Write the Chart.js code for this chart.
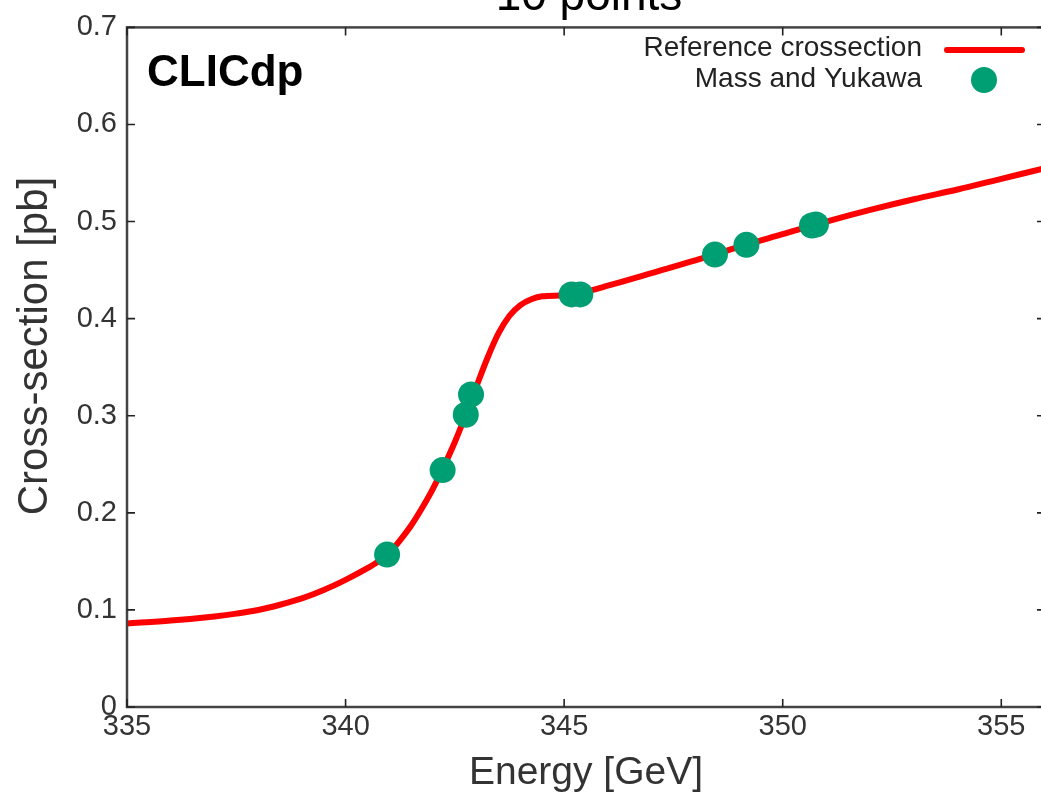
<!DOCTYPE html>
<html>
<head>
<meta charset="utf-8">
<title>Reference cross-section, 10 points</title>
<script src="https://cdn.jsdelivr.net/npm/chart.js@4.4.1/dist/chart.umd.min.js"></script>
<style>
  html, body { margin:0; padding:0; background:#fff; overflow:hidden; }
  #wrap { width:1060px; height:795px; }
</style>
</head>
<body>
<div id="wrap"><canvas id="xsecChart" width="1060" height="795"></canvas></div>
<script>
/* ---------- Data ---------- */
// reference cross-section curve
const curveEnergy = [335.0, 336.0, 337.0, 337.5, 338.0, 338.5, 339.0, 339.5, 340.0, 340.5,
                     340.75, 341.0, 341.25, 341.5, 341.75, 342.0, 342.25, 342.5, 342.75, 343.0,
                     343.25, 343.5, 343.75, 344.0, 344.25, 344.5, 345.0, 345.5, 346.0, 347.0,
                     348.0, 349.0, 350.0, 351.0, 352.0, 353.0, 354.0, 355.0, 356.0];
const curveXsec   = [0.086, 0.089, 0.0933, 0.0962, 0.0999, 0.1053, 0.1118, 0.1205, 0.131, 0.143,
                     0.150, 0.159, 0.172, 0.187, 0.205, 0.225, 0.248, 0.273, 0.301, 0.331,
                     0.360, 0.385, 0.403, 0.414, 0.420, 0.423, 0.424, 0.428, 0.434, 0.447,
                     0.460, 0.474, 0.487, 0.500, 0.512, 0.523, 0.533, 0.544, 0.555];

// the 10 scan points (mass and Yukawa)
const scanEnergy = [340.95, 342.22, 342.75, 342.87, 345.17, 345.37, 348.45, 349.17, 350.67, 350.76];
const scanXsec   = [0.157, 0.244, 0.301, 0.322, 0.425, 0.425, 0.466, 0.476, 0.496, 0.497];

// axis ticks
const xTicks = [335, 340, 345, 350, 355];
const yTicks = [0, 0.1, 0.2, 0.3, 0.4, 0.5, 0.6, 0.7];

const FONT = "'Liberation Sans', Arial, Helvetica, sans-serif";
const RED = '#ff0000';
const GREEN = '#009e73';

/* ---------- Frame, inward ticks and texts ---------- */
const decorPlugin = {
  id: 'decor',
  afterDatasetsDraw(chart){
    const {ctx, chartArea: a, scales: {x, y}} = chart;
    ctx.save();

    // box
    ctx.strokeStyle = '#444';
    ctx.lineWidth = 2.5;
    ctx.strokeRect(a.left, a.top, a.right - a.left, a.bottom - a.top);

    // ticks pointing in, mirrored on all sides
    ctx.lineWidth = 1.6;
    ctx.strokeStyle = '#222';
    ctx.beginPath();
    xTicks.forEach(v => {
      const px = x.getPixelForValue(v);
      ctx.moveTo(px, a.bottom); ctx.lineTo(px, a.bottom - 8);
      ctx.moveTo(px, a.top);    ctx.lineTo(px, a.top + 8);
    });
    yTicks.forEach(v => {
      const py = y.getPixelForValue(v);
      ctx.moveTo(a.left, py);  ctx.lineTo(a.left + 8, py);
      ctx.moveTo(a.right, py); ctx.lineTo(a.right - 8, py);
    });
    ctx.stroke();

    // title (partly above the visible area)
    ctx.fillStyle = '#000';
    ctx.textAlign = 'center';
    ctx.textBaseline = 'alphabetic';
    ctx.font = '46px ' + FONT;
    ctx.fillText('10 points', 589, 10);

    // CLICdp label
    ctx.textAlign = 'left';
    ctx.font = 'bold 44px ' + FONT;
    ctx.fillText('CLICdp', 147, 86);

    // y axis title
    ctx.save();
    ctx.translate(47, 346);
    ctx.rotate(-Math.PI / 2);
    ctx.textAlign = 'center';
    ctx.fillStyle = '#333';
    ctx.font = '42px ' + FONT;
    ctx.fillText('Cross-section [pb]', 0, 0);
    ctx.restore();

    // legend
    ctx.fillStyle = '#222';
    ctx.textAlign = 'right';
    ctx.font = '28px ' + FONT;
    ctx.fillText('Reference crossection', 922, 56);
    ctx.fillText('Mass and Yukawa', 922, 87);

    ctx.strokeStyle = RED;
    ctx.lineWidth = 6;
    ctx.lineCap = 'round';
    ctx.beginPath();
    ctx.moveTo(947, 50); ctx.lineTo(1022, 50);
    ctx.stroke();

    ctx.fillStyle = GREEN;
    ctx.beginPath();
    ctx.arc(984, 80, 13, 0, Math.PI * 2);
    ctx.fill();

    ctx.restore();
  }
};

/* ---------- Chart ---------- */
window.onload = function(){
  const ctx = document.getElementById('xsecChart').getContext('2d');

  new Chart(ctx, {
    type: 'scatter',
    data: {
      datasets: [
        {
          label: 'Mass and Yukawa',
          data: scanEnergy.map((e, i) => ({x: e, y: scanXsec[i]})),
          backgroundColor: GREEN,
          borderWidth: 0,
          pointRadius: 13,
          order: 0
        },
        {
          label: 'Reference crossection',
          type: 'line',
          data: curveEnergy.map((e, i) => ({x: e, y: curveXsec[i]})),
          borderColor: RED,
          borderWidth: 6,
          pointRadius: 0,
          cubicInterpolationMode: 'monotone',
          fill: false,
          order: 1
        }
      ]
    },
    options: {
      responsive: false,
      animation: false,
      layout: { padding: { top: 27, right: 15, left: 0, bottom: 0 } },
      plugins: { legend: { display: false }, tooltip: { enabled: false } },
      scales: {
        x: {
          type: 'linear',
          min: 335, max: 356,
          afterBuildTicks: s => { s.ticks = xTicks.map(v => ({value: v})); },
          afterFit: s => { s.height = 88; },
          grid: { display: false, drawTicks: false },
          border: { display: false },
          ticks: { color: '#333', padding: 3, font: { family: FONT, size: 29 } },
          title: {
            display: true, text: 'Energy [GeV]', color: '#333',
            font: { family: FONT, size: 39, lineHeight: 1 },
            padding: { top: 0, bottom: 2 }
          }
        },
        y: {
          min: 0, max: 0.7,
          afterBuildTicks: s => { s.ticks = yTicks.map(v => ({value: v})); },
          afterFit: s => { s.width = 127; },
          grid: { display: false, drawTicks: false },
          border: { display: false },
          ticks: { color: '#333', padding: 10, font: { family: FONT, size: 29 } }
        }
      }
    },
    plugins: [decorPlugin]
  });
};
</script>
</body>
</html>
